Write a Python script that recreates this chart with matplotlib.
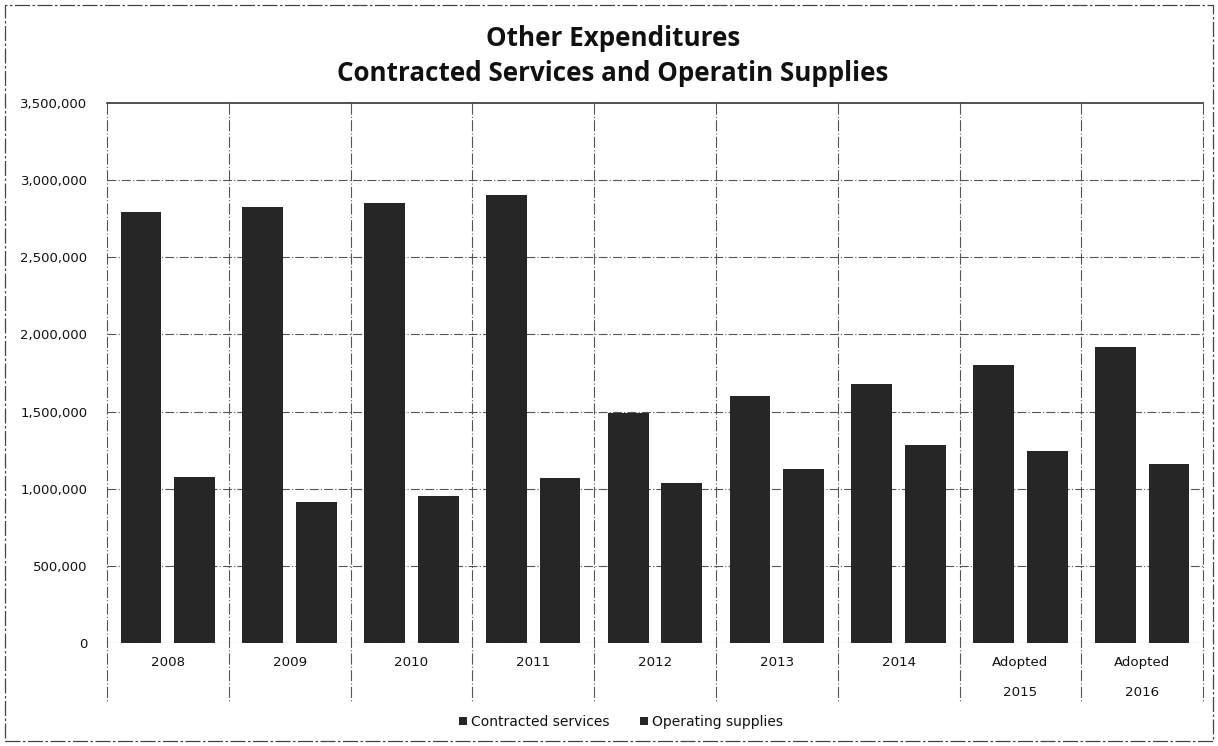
import matplotlib.pyplot as plt
import numpy as np
from matplotlib.patches import Rectangle

categories = ['2008', '2009', '2010', '2011', '2012', '2013', '2014', 'Adopted\n2015', 'Adopted\n2016']
contracted = [2795000, 2826000, 2852000, 2904000, 1491000, 1601000, 1679000, 1802000, 1919000]
operating = [1076000, 914000, 953000, 1069000, 1037000, 1128000, 1283000, 1244000, 1160000]
yticks = [0, 500000, 1000000, 1500000, 2000000, 2500000, 3000000, 3500000]

BAR = '#262626'
GRID = '#555555'
TXT = '#111111'

fig = plt.figure(figsize=(12.18, 7.46), dpi=100)
ax = fig.add_axes([0.0878, 0.1381, 0.9, 0.7238])

x = np.arange(len(categories))
w = 0.335
ax.bar(x - 0.22, contracted, w, color=BAR, label='Contracted services', zorder=3)
ax.bar(x + 0.22, operating, w, color=BAR, label='Operating supplies', zorder=3)

ax.set_xlim(-0.5, len(categories) - 0.5)
ax.set_ylim(0, 3500000)
ax.set_yticks(yticks)
ax.set_yticklabels([f'{v:,}' for v in yticks], fontsize=9.5, color=TXT)
ax.tick_params(axis='y', length=0, pad=14)
ax.set_xticks([])

for s in ['left', 'right', 'bottom']:
    ax.spines[s].set_visible(False)
ax.spines['top'].set_color('#333333')
ax.spines['top'].set_linewidth(1.2)

for v in yticks[1:-1]:
    ax.axhline(v, color=GRID, lw=0.8, ls=(0, (8, 2, 1, 2)), zorder=1)
ax.axhline(0, color=GRID, lw=0.8, ls=(0, (8, 2, 1, 2)), zorder=4)

# category separators, extending into the label area
for b in np.arange(-0.5, len(categories), 1.0):
    ax.plot([b, b], [1.0, -0.109], color=GRID, lw=0.8, ls=(0, (10, 2, 1, 2)),
            transform=ax.get_xaxis_transform(), clip_on=False, zorder=2)

for i, c in enumerate(categories):
    parts = c.split('\n')
    ax.text(i, -0.037, parts[0], ha='center', va='center', fontsize=9.6, color=TXT,
            transform=ax.get_xaxis_transform())
    if len(parts) > 1:
        ax.text(i, -0.091, parts[1], ha='center', va='center', fontsize=9.6, color=TXT,
                transform=ax.get_xaxis_transform())

fig.text(0.503, 0.948, 'Other Expenditures', ha='center', va='center',
         fontsize=18.7, fontweight='bold', family='Open Sans', color='#111111')
fig.text(0.503, 0.902, 'Contracted Services and Operatin Supplies', ha='center', va='center',
         fontsize=18.7, fontweight='bold', family='Open Sans', color='#111111')

ax.legend(loc='center', bbox_to_anchor=(0.469, -0.146), ncol=2, frameon=False,
          fontsize=10, handlelength=0.55, handleheight=0.55, handletextpad=0.3,
          columnspacing=2.2, labelcolor=TXT)

fig.patches.append(Rectangle((0.004, 0.007), 0.992, 0.986, transform=fig.transFigure,
                             fill=False, ec='#444444', lw=0.9, ls=(0, (12, 2, 2, 2))))

fig.savefig('out.png', dpi=100)
